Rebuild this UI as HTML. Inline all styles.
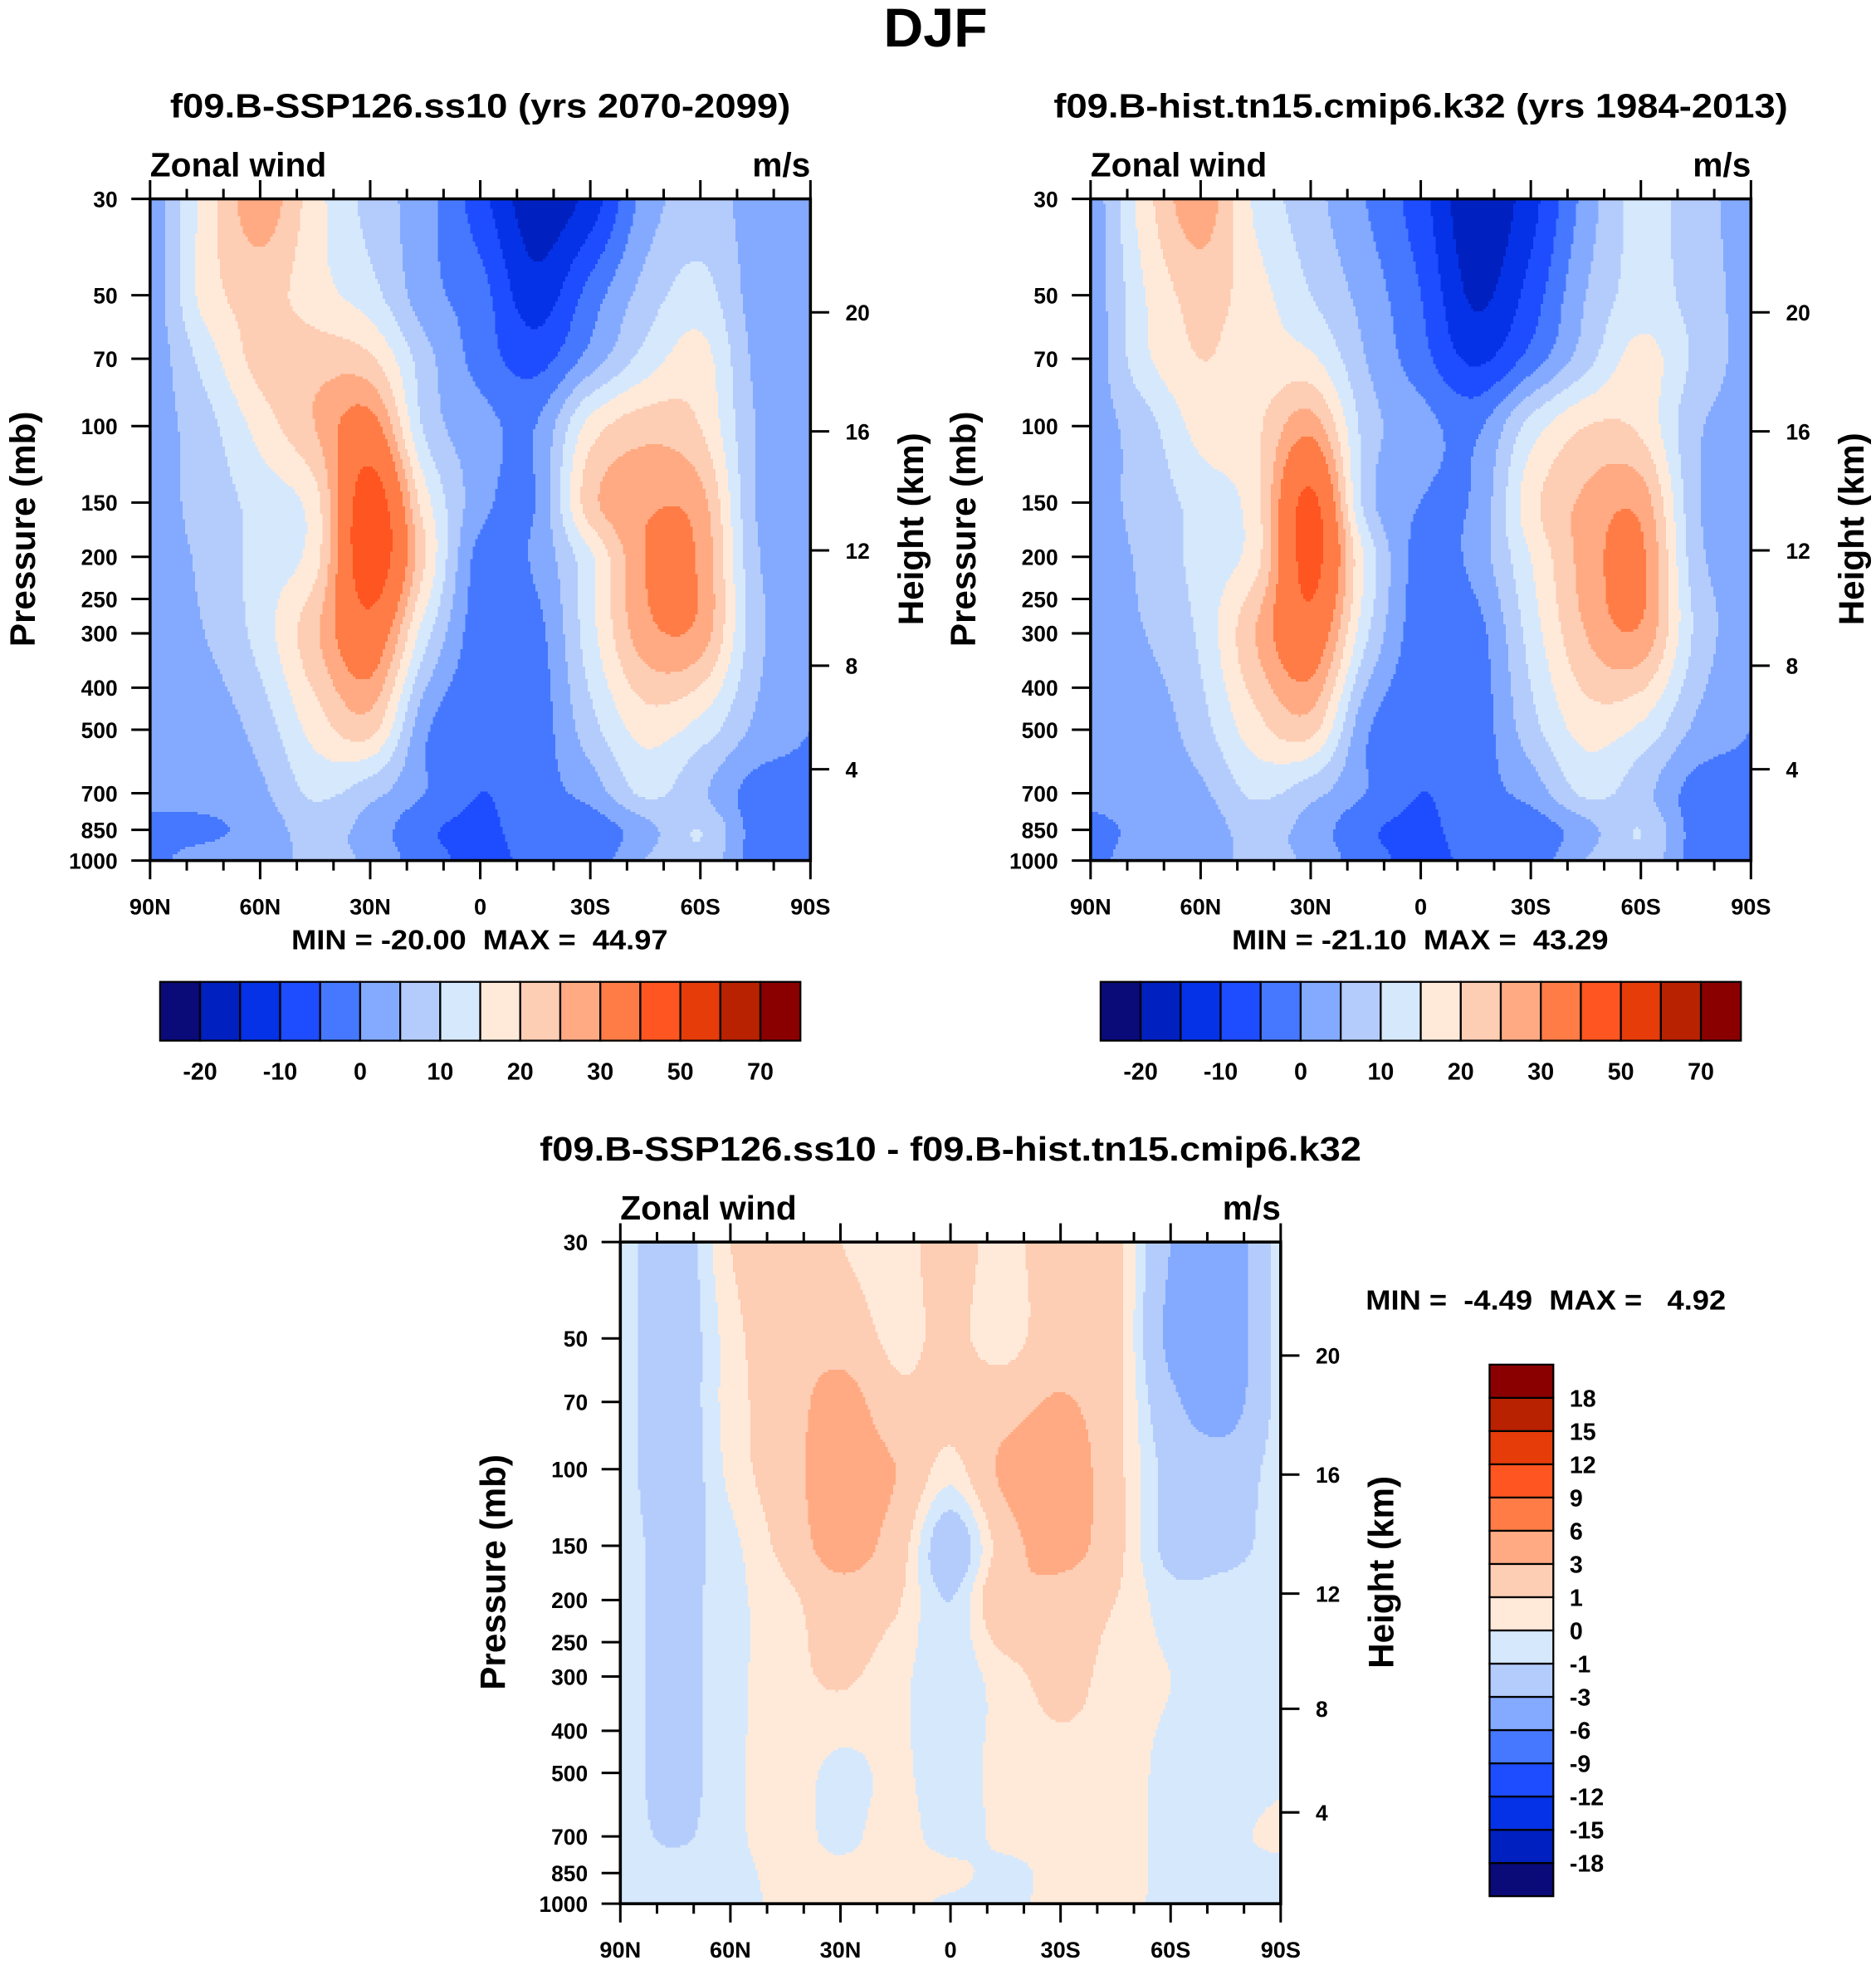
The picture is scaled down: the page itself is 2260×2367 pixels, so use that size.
<!DOCTYPE html>
<html><head><meta charset="utf-8"><title>DJF Zonal wind</title>
<style>html,body{margin:0;padding:0;background:#fff}svg{display:block}text{font-family:"Liberation Sans",Arial,sans-serif;font-weight:bold;fill:#000;white-space:pre}</style>
</head><body>
<svg id="fig" xmlns="http://www.w3.org/2000/svg" width="2260" height="2367" viewBox="0 0 1500 1571" preserveAspectRatio="none">
<rect x="0" y="0" width="1500" height="1571" fill="#fff"/>
<text x="748" y="37" font-size="44" text-anchor="middle">DJF</text>
</svg>
<script>
// ---------- data ----------
const lats=[90,75,60,45,30,15,0,-15,-30,-45,-60,-75,-90];
const plev=[30,50,70,100,150,200,300,500,700,850,1000];
const pTicks=[30,50,70,100,150,200,250,300,400,500,700,850,1000];
const kmTicks=[4,8,12,16,20];
const latTicks=[90,60,30,0,-30,-60,-90];
const latTickLabels=["90N","60N","30N","0","30S","60S","90S"];
const colors=["#0a0a78","#0020c0","#0532e6","#1e4cff","#4678ff","#84aaff","#b4ccfc","#d6e8fc","#ffeada","#fdcdb4","#ffaa82","#ff7c46","#ff5520","#e63c0a","#b82200","#8a0000"];
const levelsU=[-20,-15,-10,-5,0,5,10,15,20,25,30,40,50,60,70];
const levelsD=[-18,-15,-12,-9,-6,-3,-1,0,1,3,6,9,12,15,18];

const u1_p30=[2,17,28,17,8,2,-8,-18,-13,2,7,3,2];
const u1_p50=[2,17,22,17,12,2,-3,-13,-3,7,12,3,2];
const u1_p70=[2,12,22,23,21,7,-2,-7,2,12,17,4,2];
const u1_p100=[3,8,17,25,33,9,2,0,17,23,20,5,3];
const u1_p150=[3,7,12,18,45,17,2,0,23,29,27,5,3];
const u1_p200=[3,6,12,18,46,20,-2,1,14,30,29,6,3];
const u1_p300=[3,5,12,24,36,12,-3,-2,13,28,28,7,2];
const u1_p500=[2,2,7,17,22,1,-4,-3,8,17,13,4,0];
const u1_p700=[1,2,4,11,7,0,-5,-2,2,11,6,-2,-1];
const u1_p850=[-1,-1,2,7,3,-4,-6,-3,-3,3,10,-2,-2];
const u1_p1000=[-1,2,3,6,4,-3,-6,-4,-3,5,9,-2,-2];

const u2_p30=[2,18,28,14,7,0,-8,-19,-12,2,12,7,3];
const u2_p50=[2,15,22,17,10,3,-5,-16,-8,5,12,8,3];
const u2_p70=[2,14,20,17,16,5,-3,-11,-3,8,17,9,3];
const u2_p100=[3,8,17,19,28,8,2,-1,12,20,19,6,3];
const u2_p150=[3,7,12,18,42,8,0,1,18,26,28,6,3];
const u2_p200=[3,6,12,18,43,14,-2,2,15,27,31,7,3];
const u2_p300=[3,5,11,25,36,11,-3,-2,12,25,29,9,2];
const u2_p500=[2,2,8,18,22,1,-4,-3,8,17,14,4,0];
const u2_p700=[1,2,4,11,7,0,-5,-2,2,11,7,-2,-1];
const u2_p850=[-1,1,2,7,3,-4,-6,-3,-3,3,10,-2,-2];
const u2_p1000=[-1,2,3,6,4,-3,-6,-4,-3,5,9,-2,-2];

const d_p30=[-0.5,-2,1,2,1.0,0.6,1.5,0.6,2,1.5,-3,-4.5,-0.5];
const d_p50=[-0.5,-2,0.5,2,2,0.7,1.3,0.5,2,1.5,-3.5,-4.5,-0.5];
const d_p70=[-0.5,-2,0.5,1.8,4,1.5,1.5,2,3.2,1.5,-2.5,-4,-0.5];
const d_p100=[-0.5,-2,0.3,2,4.5,3,0.5,3.5,4.5,1.5,-1.5,-2,-0.5];
const d_p150=[-0.5,-1.5,-0.3,1.5,4,2,-2,2,4,1.5,-1.5,-1.5,-0.5];
const d_p200=[-0.5,-1.5,-0.3,0.6,2,1.2,-1,2.5,2,1,-0.5,-0.5,-0.5];
const d_p300=[-0.5,-1.5,-0.3,0.5,1.2,0.3,-0.5,0.5,1.5,0.5,0,-0.5,-0.5];
const d_p500=[-0.5,-1.5,-0.3,0.5,-0.3,0.2,-0.5,0.4,0.5,0.5,-0.3,-0.5,-0.2];
const d_p700=[-0.5,-1.2,-0.3,0.5,-0.3,0.5,-0.5,0.3,0.4,0.5,-0.3,-0.2,0.2];
const d_p850=[-0.5,-0.5,-0.4,0.4,0.3,0.5,0.3,-0.3,0.4,0.5,-0.3,-0.3,-0.3];
const d_p1000=[-0.5,-0.5,-0.5,0.3,0.3,0.4,-0.2,-0.3,0.4,0.4,-0.3,-0.3,-0.3];

const field1=[u1_p30,u1_p50,u1_p70,u1_p100,u1_p150,u1_p200,u1_p300,u1_p500,u1_p700,u1_p850,u1_p1000];
const field2=[u2_p30,u2_p50,u2_p70,u2_p100,u2_p150,u2_p200,u2_p300,u2_p500,u2_p700,u2_p850,u2_p1000];
const fieldD=[d_p30,d_p50,d_p70,d_p100,d_p150,d_p200,d_p300,d_p500,d_p700,d_p850,d_p1000];

// ---------- helpers ----------
const NS="http://www.w3.org/2000/svg";
const svg=document.getElementById('fig');
function mk(tag,attrs,parent){const e=document.createElementNS(NS,tag);for(const k in attrs)e.setAttribute(k,attrs[k]);(parent||svg).appendChild(e);return e;}
function cr(p0,p1,p2,p3,t){return 0.5*((2*p1)+(-p0+p2)*t+(2*p0-5*p1+4*p2-p3)*t*t+(-p0+3*p1-3*p2+p3)*t*t*t);}
function sample(field,lat,p){
  const nr=plev.length,nc=lats.length;
  let j=0;while(j<nr-2&&p>plev[j+1])j++;
  let t=Math.log(p/plev[j])/Math.log(plev[j+1]/plev[j]);t=Math.max(0,Math.min(1,t));
  let fi=(90-lat)/15;let i=Math.floor(fi);if(i>nc-2)i=nc-2;if(i<0)i=0;const s=fi-i;
  const R=k=>field[Math.max(0,Math.min(nr-1,k))];
  const col=c=>{c=Math.max(0,Math.min(nc-1,c));return cr(R(j-1)[c],R(j)[c],R(j+1)[c],R(j+2)[c],t);};
  return cr(col(i-1),col(i),col(i+1),col(i+2),s);
}
function levIndex(v,levels){let k=0;while(k<levels.length&&v>=levels[k])k++;return k;}
function stdP(zkm){const z=zkm*1000;if(z<=11000)return 1013.25*Math.pow(1-2.25577e-5*z,5.25588);return 226.32*Math.exp(-(z-11000)/6341.6);}

function panel(opt){
  const x0=opt.x0,y0=opt.y0,W=528,H=529;
  const xS=lat=>x0+(90-lat)/180*W;
  const yS=p=>y0+Math.log(p/30)/Math.log(1000/30)*H;
  const g=mk('g',{});
  
  
  const cg=mk('g',{'shape-rendering':'crispEdges'},g);
  
  
  const st=2;
  for(let py=0;py<H;py+=st){
    const p=30*Math.exp((py+st/2)/H*Math.log(1000/30));
    let runStart=0,runK=-1;
    const hh=Math.min(st,H-py);
    for(let px=0;px<=W;px+=st){
      let k=-2;
      if(px<W){const lat=90-(px+st/2)/W*180;k=levIndex(sample(opt.field,lat,p),opt.levels);}
      if(k!==runK){
        if(runK>=0){const r=mk('rect',{x:x0+runStart,y:y0+py,width:Math.min(px,W)-runStart+0.4,height:hh+0.4,fill:colors[runK]},cg);
          
          }
        runStart=px;runK=k;
      }
    }
  }
  const fr=mk('rect',{x:x0,y:y0,width:W,height:H,fill:'none',stroke:'#000','stroke-width':2.4},g);
  
  
  for(let lat=90;lat>=-90;lat-=10){
    const x=xS(lat),major=(lat%30===0),L=major?15:8;
    const t1=mk('line',{x1:x,x2:x,y1:y0,y2:y0-L,stroke:'#000','stroke-width':2},g);
    
    
    const t2=mk('line',{x1:x,x2:x,y1:y0+H,y2:y0+H+L,stroke:'#000','stroke-width':2},g);
    
    
  }
  latTicks.forEach((lat,i)=>{
    const t=mk('text',{x:xS(lat),y:y0+H+43,'font-size':18,'text-anchor':'middle'},g);t.textContent=latTickLabels[i];
    
    
  });
  pTicks.forEach(p=>{
    const y=yS(p);
    const l=mk('line',{x1:x0,x2:x0-15,y1:y,y2:y,stroke:'#000','stroke-width':2},g);
    
    
    const t=mk('text',{x:x0-26,y:y+6.5,'font-size':17.5,'text-anchor':'end'},g);t.textContent=p;
    
    
  });
  kmTicks.forEach(z=>{
    const y=yS(stdP(z));
    const l=mk('line',{x1:x0+W,x2:x0+W+15,y1:y,y2:y,stroke:'#000','stroke-width':2},g);
    
    
    const t=mk('text',{x:x0+W+28,y:y+6.5,'font-size':17.5},g);t.textContent=z;
    
    
  });
  const zw=mk('text',{x:x0,y:y0-18,'font-size':27},g);zw.textContent='Zonal wind';
  
  
  const ms=mk('text',{x:x0+W,y:y0-18,'font-size':27,'text-anchor':'end'},g);ms.textContent='m/s';
  
  
  const pl=mk('text',{x:0,y:0,'font-size':28,'text-anchor':'middle',transform:`translate(${x0-92},${y0+264}) rotate(-90)`},g);pl.textContent='Pressure (mb)';
  
  
  const hl=mk('text',{x:0,y:0,'font-size':28,'text-anchor':'middle',transform:`translate(${x0+W+90},${y0+264}) rotate(-90)`},g);hl.textContent='Height (km)';
  
  
  const tt=mk('text',{x:opt.tx,y:opt.ty,'font-size':27,'text-anchor':'middle',textLength:opt.tw,lengthAdjust:'spacingAndGlyphs'},g);tt.textContent=opt.title;
  
  
  const mm=mk('text',{x:opt.mx,y:opt.my,'font-size':22,textLength:opt.mw,lengthAdjust:'spacingAndGlyphs'},g);mm.textContent=opt.minmax;
  
  
}

function hColorbar(x0,name){
  const g=mk('g',{});
  
  
  colors.forEach((c,i)=>{
    const r=mk('rect',{x:x0+32*i,y:785,width:32,height:47,fill:c,stroke:'#000','stroke-width':1.5},g);
    
    
  });
  levelsU.forEach((v,i)=>{if(i%2===0){
    const t=mk('text',{x:x0+32*(i+1),y:863,'font-size':19,'text-anchor':'middle'},g);t.textContent=v;
    
    }});
}
function vColorbar(){
  const g=mk('g',{});
  
  
  const bh=(1516-1091)/16;
  colors.forEach((c,i)=>{
    const r=mk('rect',{x:1191,y:1516-bh*(i+1),width:51,height:bh,fill:c,stroke:'#000','stroke-width':1.5},g);
    
    
  });
  levelsD.forEach((v,i)=>{
    const t=mk('text',{x:1255,y:1516-bh*(i+1)+7,'font-size':19},g);t.textContent=v;
    
    
  });
}

panel({name:'future-panel',x0:120,y0:159,field:field1,levels:levelsU,title:'f09.B-SSP126.ss10 (yrs 2070-2099)',tx:384,ty:94,tw:496,minmax:'MIN = -20.00  MAX =  44.97',mx:233,my:759,mw:301});
panel({name:'historical-panel',x0:872,y0:159,field:field2,levels:levelsU,title:'f09.B-hist.tn15.cmip6.k32 (yrs 1984-2013)',tx:1136,ty:94,tw:587,minmax:'MIN = -21.10  MAX =  43.29',mx:985,my:759,mw:301});
panel({name:'difference-panel',x0:496,y0:993,field:fieldD,levels:levelsD,title:'f09.B-SSP126.ss10 - f09.B-hist.tn15.cmip6.k32',tx:760,ty:928,tw:657,minmax:'MIN =  -4.49  MAX =   4.92',mx:1092,my:1047,mw:288});
hColorbar(128,'future-colorbar');
hColorbar(880,'historical-colorbar');
vColorbar();
</script>
</body></html>
